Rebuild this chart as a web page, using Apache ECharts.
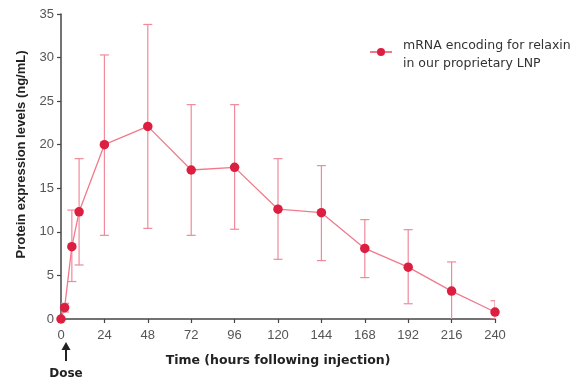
<!DOCTYPE html>
<html><head><meta charset="utf-8">
<script src="https://cdn.jsdelivr.net/npm/echarts@6/dist/echarts.min.js"></script>
<style>html,body{margin:0;padding:0;background:#fff}#c{width:573px;height:383px}</style>
</head><body><div id="c"></div>
<script>
const times = [0, 2, 6, 10, 24, 48, 72, 96, 120, 144, 168, 192, 216, 240];
const means = [0, 1.3, 8.3, 12.3, 20.0, 22.1, 17.1, 17.4, 12.6, 12.2, 8.1, 5.95, 3.2, 0.8];
const upper = [0, 1.8, 12.5, 18.4, 30.3, 33.8, 24.6, 24.6, 18.4, 17.6, 11.4, 10.25, 6.55, 2.1];
const lower = [0, 0.8, 4.3, 6.2, 9.6, 10.4, 9.6, 10.3, 6.85, 6.7, 4.75, 1.75, -0.5, 0];
const xTicks = [0, 24, 48, 72, 96, 120, 144, 168, 192, 216, 240];
const yTicks = [0, 5, 10, 15, 20, 25, 30, 35];
const legendLines = ['mRNA encoding for relaxin', 'in our proprietary LNP'];
const seriesName = legendLines.join(' ');

const chart = echarts.init(document.getElementById('c'));
const font = 'Liberation Sans, Arial, sans-serif';
const wide = 'DejaVu Sans, sans-serif';
chart.setOption({
  animation: false,
  grid: {left: 61, right: 78, top: 14, bottom: 64},
  legend: {
    left: 369, top: 31, padding: 0, itemWidth: 22, itemHeight: 10, itemGap: 0,
    formatter: () => '{s| }\n{a|' + legendLines[0] + '}\n{a|' + legendLines[1] + '}',
    textStyle: {fontFamily: wide, fontSize: 12.5, color: '#333', padding: [0, 0, 0, 6],
      rich: {
        s: {fontSize: 6, lineHeight: 6},
        a: {fontFamily: wide, fontSize: 12.5, color: '#333', lineHeight: 18}
      }},
    data: [seriesName]
  },
  xAxis: {
    type: 'value', min: 0, max: 240, interval: 24,
    name: 'Time (hours following injection)', nameLocation: 'middle', nameGap: 35,
    nameTextStyle: {fontFamily: wide, fontWeight: 'bold', fontSize: 12.5, color: '#222'},
    axisLine: {lineStyle: {color: '#444', width: 1.5}},
    axisTick: {length: 4, lineStyle: {color: '#444', width: 1.2}},
    axisLabel: {fontFamily: font, fontSize: 13, color: '#555', margin: 10,
      formatter: v => xTicks.includes(v) ? String(v) : ''},
    splitLine: {show: false}
  },
  yAxis: {
    type: 'value', min: 0, max: 35, interval: 5,
    name: 'Protein expression levels (ng/mL)', nameLocation: 'middle', nameGap: 33,
    nameTextStyle: {fontFamily: font, fontWeight: 'bold', fontSize: 13, color: '#222', padding: [0, 0, 0, 24]},
    axisLine: {show: true, lineStyle: {color: '#444', width: 1.5}},
    axisTick: {show: true, length: 4, lineStyle: {color: '#444', width: 1.2}},
    axisLabel: {fontFamily: font, fontSize: 13, color: '#555', margin: 7,
      formatter: v => yTicks.includes(v) ? String(v) : ''},
    splitLine: {show: false}
  },
  series: [
    {
      type: 'custom', name: 'err', silent: true, clip: true, z: 1,
      data: times.map((t, i) => [t, lower[i], upper[i]]),
      renderItem: function (params, api) {
        const x = api.value(0);
        const lo = api.coord([x, api.value(1)]);
        const hi = api.coord([x, api.value(2)]);
        const hw = 4.5;
        const st = {stroke: '#f08a9a', lineWidth: 1.2, fill: 'none'};
        return {type: 'group', children: [
          {type: 'line', shape: {x1: lo[0], y1: lo[1], x2: hi[0], y2: hi[1]}, style: st},
          {type: 'line', shape: {x1: hi[0] - hw, y1: hi[1], x2: hi[0] + hw, y2: hi[1]}, style: st},
          {type: 'line', shape: {x1: lo[0] - hw, y1: lo[1], x2: lo[0] + hw, y2: lo[1]}, style: st}
        ]};
      }
    },
    {
      type: 'line', name: seriesName, z: 3,
      data: times.map((t, i) => [t, means[i]]),
      symbol: 'circle', symbolSize: 9.5,
      itemStyle: {color: '#dc1e40'},
      lineStyle: {color: '#f07a8c', width: 1.3},
      clip: false
    }
  ],
  graphic: [
    {type: 'line', shape: {x1: 66, y1: 361, x2: 66, y2: 348}, style: {stroke: '#222', lineWidth: 2}},
    {type: 'polygon', shape: {points: [[66, 342], [61.5, 350], [70.5, 350]]}, style: {fill: '#222'}},
    {type: 'text', x: 66, y: 374, style: {text: 'Dose', font: 'bold 12px DejaVu Sans, sans-serif', fill: '#222', textAlign: 'center', textVerticalAlign: 'middle'}}
  ]
});
</script></body></html>
